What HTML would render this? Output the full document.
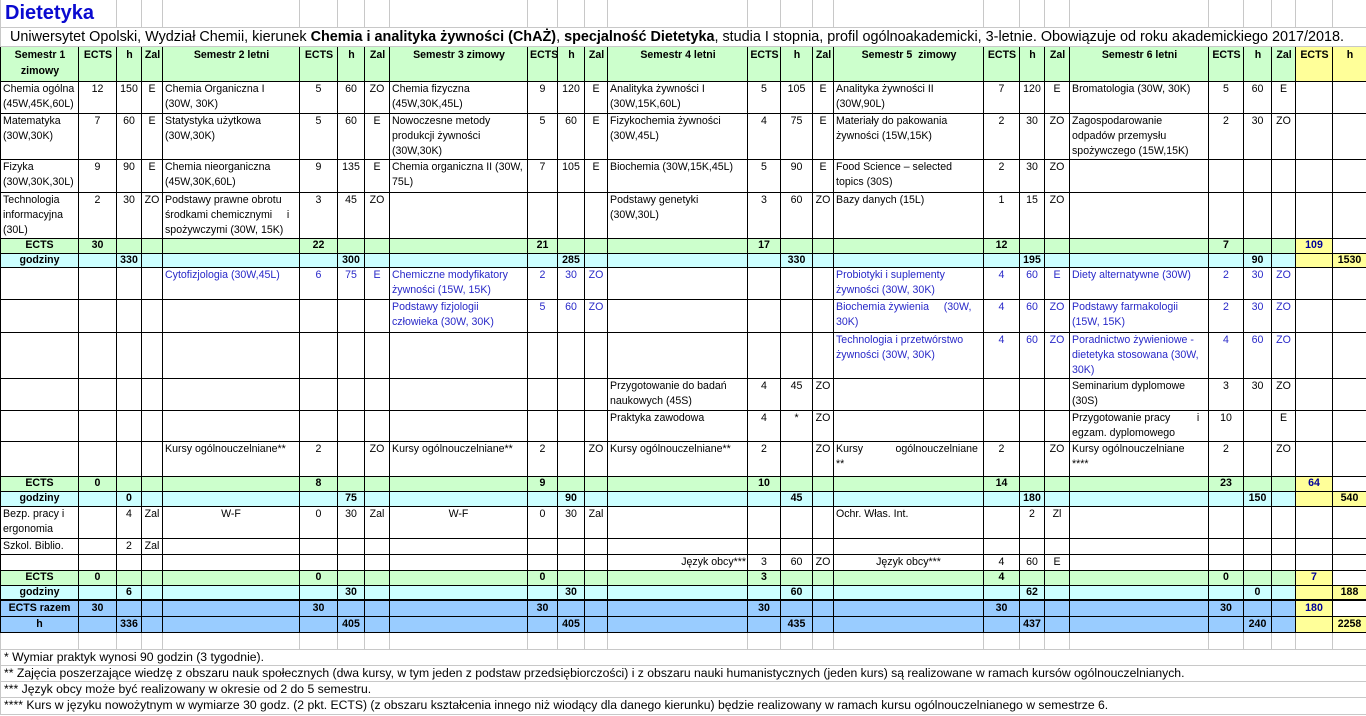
<!DOCTYPE html>
<html><head><meta charset="utf-8">
<style>
body{margin:0;background:#fff;font-family:"Liberation Sans",Arial,sans-serif;font-size:10.6px;color:#000;overflow:hidden;height:716px;}
table{border-collapse:collapse;table-layout:fixed;width:1366px;position:absolute;left:0;top:0;}
td{border:1px solid #000;padding:0 1px 0 2px;line-height:15px;vertical-align:top;overflow:hidden;}
td.n{text-align:center;padding:0 1px;}
.bl{color:#2828c8;}
.g td{background:#ccffcc;font-weight:bold;height:13px;line-height:13px;}
.c td{background:#ccffff;font-weight:bold;line-height:13px;}
.B td{background:#99ccff;font-weight:bold;line-height:14px;}
td.y{background:#ffff99 !important;}
td.w{background:#fff !important;}
.nv{color:#000099;}
.t td{border:1px solid #c8c8c8;border-top:none;}
.sub td{border:1px solid #c8c8c8;white-space:nowrap;font-size:14.4px;line-height:18px;padding-left:9px;overflow:visible;}
.hd td{background:#ccffcc;font-weight:bold;text-align:center;line-height:16px;}
.hd td.y{background:#ffff99;}
.thick td{border-bottom:2px solid #000;}
.e td{border:1px solid #c8c8c8;border-top:none;border-bottom:none;}
.f td{border:none;border-bottom:1px solid #c8c8c8;border-left:1px solid #c8c8c8;font-size:12.2px;line-height:15px;white-space:nowrap;padding-left:3px;overflow:visible;}
.j{text-align:justify;}
</style></head><body>
<table>
<colgroup>
<col style="width:78px"><col style="width:38px"><col style="width:25px"><col style="width:21px">
<col style="width:137px"><col style="width:38px"><col style="width:27px"><col style="width:25px">
<col style="width:138px"><col style="width:30px"><col style="width:27px"><col style="width:23px">
<col style="width:140px"><col style="width:33px"><col style="width:32px"><col style="width:21px">
<col style="width:150px"><col style="width:36px"><col style="width:25px"><col style="width:25px">
<col style="width:139px"><col style="width:35px"><col style="width:28px"><col style="width:24px">
<col style="width:37px"><col style="width:34px">
</colgroup>
<tr class="t" style="height:27px"><td colspan="2" style="border-right:1px solid #c8c8c8;overflow:visible;white-space:nowrap;font-size:20px;font-weight:bold;color:#0a0ad0;line-height:26px;padding-left:4px">Dietetyka</td><td></td><td></td><td></td><td></td><td></td><td></td><td></td><td></td><td></td><td></td><td></td><td></td><td></td><td></td><td></td><td></td><td></td><td></td><td></td><td></td><td></td><td></td><td></td></tr>
<tr class="sub" style="height:19px"><td colspan="26">Uniwersytet Opolski, Wydział Chemii, kierunek <b>Chemia i analityka żywności (ChAŻ)</b>, <b>specjalność Dietetyka</b>, studia I stopnia, profil ogólnoakademicki, 3-letnie. Obowiązuje od roku akademickiego 2017/2018.</td></tr>
<tr class="hd" style="height:35px"><td>Semestr 1 zimowy</td><td>ECTS</td><td>h</td><td>Zal</td><td>Semestr 2 letni</td><td>ECTS</td><td>h</td><td>Zal</td><td>Semestr 3 zimowy</td><td>ECTS</td><td>h</td><td>Zal</td><td>Semestr 4 letni</td><td>ECTS</td><td>h</td><td>Zal</td><td>Semestr 5&nbsp; zimowy</td><td>ECTS</td><td>h</td><td>Zal</td><td>Semestr 6 letni</td><td>ECTS</td><td>h</td><td>Zal</td><td class="y">ECTS</td><td class="y">h</td></tr>
<tr style="height:32px"><td>Chemia ogólna (45W,45K,60L)</td><td class="n">12</td><td class="n">150</td><td class="n">E</td><td>Chemia Organiczna I<br>(30W, 30K)</td><td class="n">5</td><td class="n">60</td><td class="n">ZO</td><td>Chemia fizyczna<br>(45W,30K,45L)</td><td class="n">9</td><td class="n">120</td><td class="n">E</td><td>Analityka żywności I<br>(30W,15K,60L)</td><td class="n">5</td><td class="n">105</td><td class="n">E</td><td>Analityka żywności II<br>(30W,90L)</td><td class="n">7</td><td class="n">120</td><td class="n">E</td><td>Bromatologia (30W, 30K)</td><td class="n">5</td><td class="n">60</td><td class="n">E</td><td></td><td></td></tr>
<tr style="height:43px"><td>Matematyka (30W,30K)</td><td class="n">7</td><td class="n">60</td><td class="n">E</td><td>Statystyka użytkowa<br>(30W,30K)</td><td class="n">5</td><td class="n">60</td><td class="n">E</td><td>Nowoczesne metody produkcji żywności (30W,30K)</td><td class="n">5</td><td class="n">60</td><td class="n">E</td><td>Fizykochemia żywności<br>(30W,45L)</td><td class="n">4</td><td class="n">75</td><td class="n">E</td><td>Materiały do pakowania<br>żywności (15W,15K)</td><td class="n">2</td><td class="n">30</td><td class="n">ZO</td><td>Zagospodarowanie<br>odpadów przemysłu spożywczego (15W,15K)</td><td class="n">2</td><td class="n">30</td><td class="n">ZO</td><td></td><td></td></tr>
<tr style="height:33px"><td>Fizyka (30W,30K,30L)</td><td class="n">9</td><td class="n">90</td><td class="n">E</td><td>Chemia nieorganiczna<br>(45W,30K,60L)</td><td class="n">9</td><td class="n">135</td><td class="n">E</td><td>Chemia organiczna II (30W, 75L)</td><td class="n">7</td><td class="n">105</td><td class="n">E</td><td>Biochemia (30W,15K,45L)</td><td class="n">5</td><td class="n">90</td><td class="n">E</td><td>Food Science – selected<br>topics (30S)</td><td class="n">2</td><td class="n">30</td><td class="n">ZO</td><td></td><td></td><td></td><td></td><td></td><td></td></tr>
<tr style="height:46px"><td>Technologia informacyjna (30L)</td><td class="n">2</td><td class="n">30</td><td class="n">ZO</td><td class="j">Podstawy prawne obrotu<br>środkami chemicznymi &nbsp; &nbsp; i<br>spożywczymi (30W, 15K)</td><td class="n">3</td><td class="n">45</td><td class="n">ZO</td><td></td><td></td><td></td><td></td><td>Podstawy genetyki<br>(30W,30L)</td><td class="n">3</td><td class="n">60</td><td class="n">ZO</td><td>Bazy danych (15L)</td><td class="n">1</td><td class="n">15</td><td class="n">ZO</td><td></td><td></td><td></td><td></td><td></td><td></td></tr>
<tr class="g" style="height:15px"><td class="n">ECTS</td><td class="n">30</td><td></td><td></td><td></td><td class="n">22</td><td></td><td></td><td></td><td class="n">21</td><td></td><td></td><td></td><td class="n">17</td><td></td><td></td><td></td><td class="n">12</td><td></td><td></td><td></td><td class="n">7</td><td></td><td></td><td class="n y nv">109</td><td class="w"></td></tr>
<tr class="c" style="height:14px"><td class="n">godziny</td><td></td><td class="n">330</td><td></td><td></td><td></td><td class="n">300</td><td></td><td></td><td></td><td class="n">285</td><td></td><td></td><td></td><td class="n">330</td><td></td><td></td><td></td><td class="n">195</td><td></td><td></td><td></td><td class="n">90</td><td></td><td class="y"></td><td class="n y">1530</td></tr>
<tr style="height:32px" class="bl"><td></td><td></td><td></td><td></td><td>Cytofizjologia (30W,45L)</td><td class="n">6</td><td class="n">75</td><td class="n">E</td><td>Chemiczne modyfikatory<br>żywności (15W, 15K)</td><td class="n">2</td><td class="n">30</td><td class="n">ZO</td><td></td><td></td><td></td><td></td><td>Probiotyki i suplementy<br>żywności (30W, 30K)</td><td class="n">4</td><td class="n">60</td><td class="n">E</td><td>Diety alternatywne (30W)</td><td class="n">2</td><td class="n">30</td><td class="n">ZO</td><td></td><td></td></tr>
<tr style="height:33px" class="bl"><td></td><td></td><td></td><td></td><td></td><td></td><td></td><td></td><td>Podstawy fizjologii<br>człowieka (30W, 30K)</td><td class="n">5</td><td class="n">60</td><td class="n">ZO</td><td></td><td></td><td></td><td></td><td class="j">Biochemia żywienia &nbsp; &nbsp; (30W,<br>30K)</td><td class="n">4</td><td class="n">60</td><td class="n">ZO</td><td>Podstawy farmakologii<br>(15W, 15K)</td><td class="n">2</td><td class="n">30</td><td class="n">ZO</td><td></td><td></td></tr>
<tr style="height:46px" class="bl"><td></td><td></td><td></td><td></td><td></td><td></td><td></td><td></td><td></td><td></td><td></td><td></td><td></td><td></td><td></td><td></td><td>Technologia i przetwórstwo<br>żywności (30W, 30K)</td><td class="n">4</td><td class="n">60</td><td class="n">ZO</td><td>Poradnictwo żywieniowe -<br>dietetyka stosowana (30W,<br>30K)</td><td class="n">4</td><td class="n">60</td><td class="n">ZO</td><td></td><td></td></tr>
<tr style="height:32px"><td></td><td></td><td></td><td></td><td></td><td></td><td></td><td></td><td></td><td></td><td></td><td></td><td>Przygotowanie do badań<br>naukowych (45S)</td><td class="n">4</td><td class="n">45</td><td class="n">ZO</td><td></td><td></td><td></td><td></td><td>Seminarium dyplomowe<br>(30S)</td><td class="n">3</td><td class="n">30</td><td class="n">ZO</td><td></td><td></td></tr>
<tr style="height:30px"><td></td><td></td><td></td><td></td><td></td><td></td><td></td><td></td><td></td><td></td><td></td><td></td><td>Praktyka zawodowa</td><td class="n">4</td><td class="n">*</td><td class="n">ZO</td><td></td><td></td><td></td><td></td><td class="j">Przygotowanie pracy &nbsp; &nbsp; &nbsp; &nbsp; i<br>egzam. dyplomowego</td><td class="n">10</td><td></td><td class="n">E</td><td></td><td></td></tr>
<tr style="height:35px"><td></td><td></td><td></td><td></td><td>Kursy ogólnouczelniane**</td><td class="n">2</td><td></td><td class="n">ZO</td><td>Kursy ogólnouczelniane**</td><td class="n">2</td><td></td><td class="n">ZO</td><td>Kursy ogólnouczelniane**</td><td class="n">2</td><td></td><td class="n">ZO</td><td class="j">Kursy &nbsp; &nbsp; &nbsp; &nbsp; &nbsp; ogólnouczelniane<br>**</td><td class="n">2</td><td></td><td class="n">ZO</td><td>Kursy ogólnouczelniane<br>****</td><td class="n">2</td><td></td><td class="n">ZO</td><td></td><td></td></tr>
<tr class="g" style="height:15px"><td class="n">ECTS</td><td class="n">0</td><td></td><td></td><td></td><td class="n">8</td><td></td><td></td><td></td><td class="n">9</td><td></td><td></td><td></td><td class="n">10</td><td></td><td></td><td></td><td class="n">14</td><td></td><td></td><td></td><td class="n">23</td><td></td><td></td><td class="n y nv">64</td><td class="w"></td></tr>
<tr class="c" style="height:15px"><td class="n">godziny</td><td></td><td class="n">0</td><td></td><td></td><td></td><td class="n">75</td><td></td><td></td><td></td><td class="n">90</td><td></td><td></td><td></td><td class="n">45</td><td></td><td></td><td></td><td class="n">180</td><td></td><td></td><td></td><td class="n">150</td><td></td><td class="y"></td><td class="n y">540</td></tr>
<tr style="height:32px"><td>Bezp. pracy i ergonomia</td><td></td><td class="n">4</td><td class="n">Zal</td><td class="n">W-F</td><td class="n">0</td><td class="n">30</td><td class="n">Zal</td><td class="n">W-F</td><td class="n">0</td><td class="n">30</td><td class="n">Zal</td><td></td><td></td><td></td><td></td><td>Ochr. Włas. Int.</td><td></td><td class="n">2</td><td class="n">Zl</td><td></td><td></td><td></td><td></td><td></td><td></td></tr>
<tr style="height:14px"><td>Szkol. Biblio.</td><td></td><td class="n">2</td><td class="n">Zal</td><td></td><td></td><td></td><td></td><td></td><td></td><td></td><td></td><td></td><td></td><td></td><td></td><td></td><td></td><td></td><td></td><td></td><td></td><td></td><td></td><td></td><td></td></tr>
<tr style="height:14px"><td></td><td></td><td></td><td></td><td></td><td></td><td></td><td></td><td></td><td></td><td></td><td></td><td style="text-align:right">Język obcy***</td><td class="n">3</td><td class="n">60</td><td class="n">ZO</td><td class="n">Język obcy***</td><td class="n">4</td><td class="n">60</td><td class="n">E</td><td></td><td></td><td></td><td></td><td></td><td></td></tr>
<tr class="g" style="height:15px"><td class="n">ECTS</td><td class="n">0</td><td></td><td></td><td></td><td class="n">0</td><td></td><td></td><td></td><td class="n">0</td><td></td><td></td><td></td><td class="n">3</td><td></td><td></td><td></td><td class="n">4</td><td></td><td></td><td></td><td class="n">0</td><td></td><td></td><td class="n y nv">7</td><td class="w"></td></tr>
<tr class="c thick" style="height:15px"><td class="n">godziny</td><td></td><td class="n">6</td><td></td><td></td><td></td><td class="n">30</td><td></td><td></td><td></td><td class="n">30</td><td></td><td></td><td></td><td class="n">60</td><td></td><td></td><td></td><td class="n">62</td><td></td><td></td><td></td><td class="n">0</td><td></td><td class="y"></td><td class="n y">188</td></tr>
<tr class="B" style="height:16px"><td class="n">ECTS razem</td><td class="n">30</td><td></td><td></td><td></td><td class="n">30</td><td></td><td></td><td></td><td class="n">30</td><td></td><td></td><td></td><td class="n">30</td><td></td><td></td><td></td><td class="n">30</td><td></td><td></td><td></td><td class="n">30</td><td></td><td></td><td class="n y nv">180</td><td class="w"></td></tr>
<tr class="B" style="height:16px"><td class="n">h</td><td></td><td class="n">336</td><td></td><td></td><td></td><td class="n">405</td><td></td><td></td><td></td><td class="n">405</td><td></td><td></td><td></td><td class="n">435</td><td></td><td></td><td></td><td class="n">437</td><td></td><td></td><td></td><td class="n">240</td><td></td><td class="y"></td><td class="n y">2258</td></tr>
<tr class="e" style="height:17px"><td></td><td></td><td></td><td></td><td></td><td></td><td></td><td></td><td></td><td></td><td></td><td></td><td></td><td></td><td></td><td></td><td></td><td></td><td></td><td></td><td></td><td></td><td></td><td></td><td></td><td></td></tr>
<tr class="f" style="height:16px"><td colspan="26" style="border-top:1px solid #c8c8c8">* Wymiar praktyk wynosi 90 godzin (3 tygodnie).</td></tr>
<tr class="f" style="height:16px"><td colspan="26">** Zajęcia poszerzające wiedzę z obszaru nauk społecznych (dwa kursy, w tym jeden z podstaw przedsiębiorczości) i z obszaru nauki humanistycznych (jeden kurs) są realizowane w ramach kursów ogólnouczelnianych.</td></tr>
<tr class="f" style="height:16px"><td colspan="26">*** Język obcy może być realizowany w okresie od 2 do 5 semestru.</td></tr>
<tr class="f" style="height:17px"><td colspan="26">**** Kurs w języku nowożytnym w wymiarze 30 godz. (2 pkt. ECTS) (z obszaru kształcenia innego niż wiodący dla danego kierunku) będzie realizowany w ramach kursu ogólnouczelnianego w semestrze 6.</td></tr>
</table>
</body></html>
